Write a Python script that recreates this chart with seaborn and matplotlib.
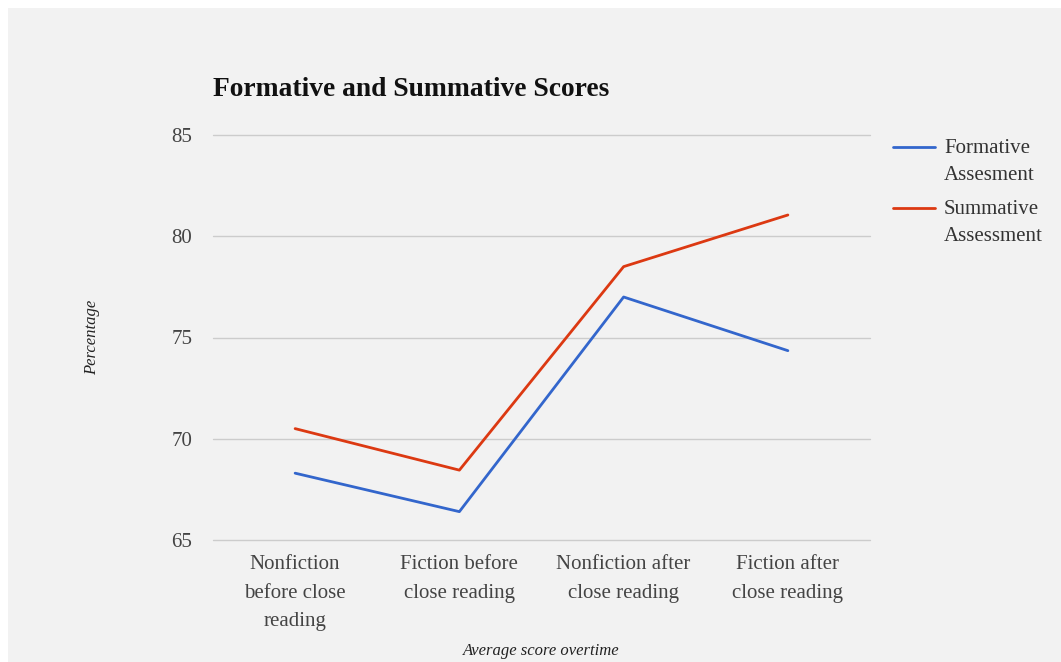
import matplotlib
matplotlib.use("Agg")
import matplotlib.pyplot as plt
import seaborn as sns
import pandas as pd
import numpy as np
from matplotlib.patches import Rectangle

categories = ["Nonfiction\nbefore close\nreading", "Fiction before\nclose reading",
              "Nonfiction after\nclose reading", "Fiction after\nclose reading"]
formative = [68.3, 66.4, 77.0, 74.35]
summative = [70.5, 68.45, 78.5, 81.05]
series_names = ["Formative\nAssesment", "Summative\nAssessment"]
y_ticks = [65, 70, 75, 80, 85]

df = pd.DataFrame({
    "category": categories * 2,
    "value": formative + summative,
    "series": [series_names[0]] * 4 + [series_names[1]] * 4,
})

sns.set_theme(style="white")
plt.rcParams["font.family"] = ["Liberation Serif", "DejaVu Serif"]

bg = "#f2f2f2"
fig = plt.figure(figsize=(10.61, 6.62), dpi=100, facecolor="white")
fig.patches.append(Rectangle((8 / 1061, 0), 1, 1 - 8 / 662,
                             transform=fig.transFigure, facecolor=bg,
                             edgecolor="none", zorder=-10))
ax = fig.add_axes([213 / 1061, 1 - 540 / 662, (870 - 213) / 1061, (540 - 135) / 662])
ax.set_facecolor(bg)

palette = {series_names[0]: "#3366cc", series_names[1]: "#dc3912"}
sns.lineplot(data=df, x="category", y="value", hue="series", palette=palette,
             linewidth=2.0, ax=ax, sort=False, legend=True)

ax.set_xlim(-0.5, 3.5)
ax.set_ylim(65, 85)
ax.set_yticks(y_ticks)
ax.set_yticklabels([str(t) for t in y_ticks])
ax.yaxis.grid(True, color="#cccccc", linewidth=1.0)
for gl in ax.yaxis.get_gridlines():
    gl.set_clip_on(False)
ax.xaxis.grid(False)
for s in ax.spines.values():
    s.set_visible(False)
ax.tick_params(axis="both", length=0, labelsize=15, colors="#444444")
ax.tick_params(axis="y", pad=15)
ax.tick_params(axis="x", pad=11)
for lbl in ax.get_xticklabels():
    lbl.set_linespacing(1.68)

ax.set_xlabel("Average score overtime", fontstyle="italic", fontsize=12,
              color="#222222")
ax.set_ylabel("Percentage", fontstyle="italic", fontsize=12,
              color="#222222")
ax.xaxis.set_label_coords(0.5, -0.255)
ax.yaxis.set_label_coords((100 - 213) / 657, 0.5)

fig.text(213 / 1061, 1 - 89 / 662, "Formative and Summative Scores",
         fontsize=19.8, fontweight="bold", color="#111111", va="center", ha="left")

handles, labels = ax.get_legend_handles_labels()
leg = ax.legend(handles, labels, loc="upper left",
                bbox_to_anchor=(893 / 1061, 1 - 139 / 662),
                bbox_transform=fig.transFigure, frameon=False, fontsize=15,
                handlelength=2.0, handletextpad=0.45, labelspacing=0.7,
                borderpad=0, borderaxespad=0, labelcolor="#333333")
for t in leg.get_texts():
    t.set_linespacing(1.6)
for ln in leg.get_lines():
    yd = np.asarray(ln.get_ydata(), dtype=float)
    ln.set_ydata(yd + 10.5)
    ln.set_linewidth(2.0)

fig.savefig("out.png", dpi=100, facecolor="white")
